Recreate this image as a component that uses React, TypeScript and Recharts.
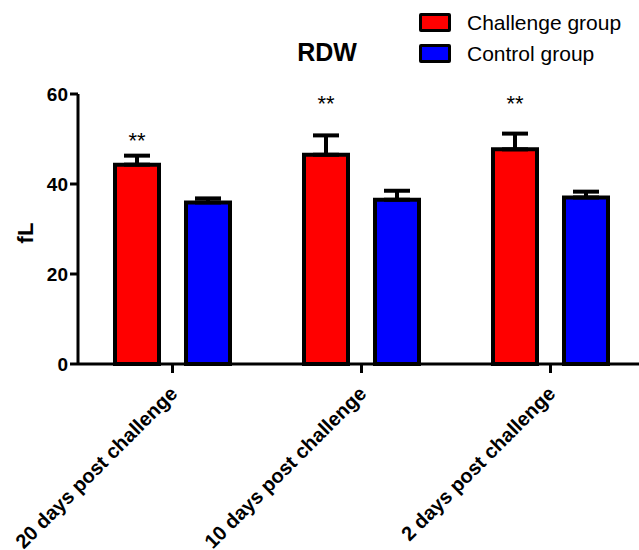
import React from 'react';
import {
  ComposedChart,
  Bar,
  XAxis,
  YAxis,
  ErrorBar,
  LabelList,
} from 'recharts';

const categories = ['20 days post challenge', '10 days post challenge', '2 days post challenge'];
const challenge = [44.3, 46.5, 47.7];
const challengeErr = [2.0, 4.3, 3.5];
const control = [35.9, 36.5, 37.0];
const controlErr = [0.9, 2.0, 1.3];
const sigLabel = ['**', '**', '**'];
const sigAt = [48.1, 56.3, 56.3];
const yTicks = [0, 20, 40, 60];
const seriesNames = ['Challenge group', 'Control group'];
const seriesColors = ['#ff0000', '#0000ff'];

const data = categories.map((name, i) => ({
  name,
  challenge: challenge[i],
  challengeErr: challengeErr[i],
  control: control[i],
  controlErr: controlErr[i],
  sig: sigLabel[i],
}));

const FONT = 'Arial, "Liberation Sans", sans-serif';

// "**" placed through the bar's own geometry
const renderStar = (props: any) => {
  const { x, y, width, height, index, value } = props;
  const perUnit = height / challenge[index];
  const yPos = y + height - sigAt[index] * perUnit;
  return (
    <text
      x={x + width / 2}
      y={yPos}
      textAnchor="middle"
      fontFamily={FONT}
      fontSize={22}
      fill="#000"
    >
      {value}
    </text>
  );
};

const XTick = (props: any) => {
  const { x, y, payload } = props;
  return (
    <g transform={`translate(${x + 6},${y + 20})`}>
      <text
        x={0}
        y={0}
        textAnchor="end"
        transform="rotate(-45)"
        fontFamily={FONT}
        fontWeight="bold"
        fontSize={20}
        fill="#000"
      >
        {payload.value}
      </text>
    </g>
  );
};

function LegendBox() {
  return (
    <div style={{ position: 'absolute', left: 419, top: 7, fontFamily: FONT }}>
      {seriesNames.map((name, i) => (
        <div key={name} style={{ display: 'flex', alignItems: 'center', height: 31 }}>
          <div
            style={{
              width: 26,
              height: 13,
              background: seriesColors[i],
              border: '3px solid #000',
              borderRadius: 2,
              marginRight: 16,
            }}
          />
          <span style={{ fontSize: 21, color: '#000' }}>{name}</span>
        </div>
      ))}
    </div>
  );
}

export default function App() {
  return (
    <div style={{ position: 'absolute', left: 0, top: 0, width: 639, height: 550, background: '#fff' }}>
      <div
        style={{
          position: 'absolute',
          left: 227,
          top: 38,
          width: 200,
          textAlign: 'center',
          fontFamily: FONT,
          fontWeight: 'bold',
          fontSize: 25,
          lineHeight: '28px',
          color: '#000',
        }}
      >
        RDW
      </div>
      <LegendBox />
      <ComposedChart
        width={639}
        height={550}
        data={data}
        margin={{ top: 94, right: 0, left: 0, bottom: 0 }}
        barGap={27}
      >
        <XAxis
          dataKey="name"
          height={186}
          padding={{ left: 0, right: -6 }}
          axisLine={{ stroke: '#000', strokeWidth: 3 }}
          tickLine={{ stroke: '#000', strokeWidth: 3 }}
          tickSize={9}
          tickMargin={2}
          tick={<XTick />}
          interval={0}
        />
        <YAxis
          width={78}
          domain={[0, 60]}
          ticks={yTicks}
          axisLine={{ stroke: '#000', strokeWidth: 3 }}
          tickLine={{ stroke: '#000', strokeWidth: 3 }}
          tickSize={8}
          tickMargin={2}
          tick={{ fill: '#000', fontFamily: FONT, fontWeight: 'bold', fontSize: 19 }}
          label={(p: any) => {
            const vb = p.viewBox;
            const cy = vb.y + vb.height / 2 + 4;
            return (
              <text
                x={33}
                y={cy}
                textAnchor="middle"
                transform={`rotate(-90, 33, ${cy})`}
                fontFamily={FONT}
                fontWeight="bold"
                fontSize={22}
                fill="#000"
              >
                fL
              </text>
            );
          }}
        />
        <Bar
          dataKey="challenge"
          name={seriesNames[0]}
          fill={seriesColors[0]}
          stroke="#000"
          strokeWidth={4}
          barSize={44}
          isAnimationActive={false}
        >
          <ErrorBar
            dataKey={(d: any) => [0, d.challengeErr]}
            width={13}
            stroke="#000"
            strokeWidth={4}
            direction="y"
          />
          <LabelList dataKey="sig" content={renderStar} />
        </Bar>
        <Bar
          dataKey="control"
          name={seriesNames[1]}
          fill={seriesColors[1]}
          stroke="#000"
          strokeWidth={4}
          barSize={44}
          isAnimationActive={false}
        >
          <ErrorBar
            dataKey={(d: any) => [0, d.controlErr]}
            width={13}
            stroke="#000"
            strokeWidth={4}
            direction="y"
          />
        </Bar>
      </ComposedChart>
    </div>
  );
}
